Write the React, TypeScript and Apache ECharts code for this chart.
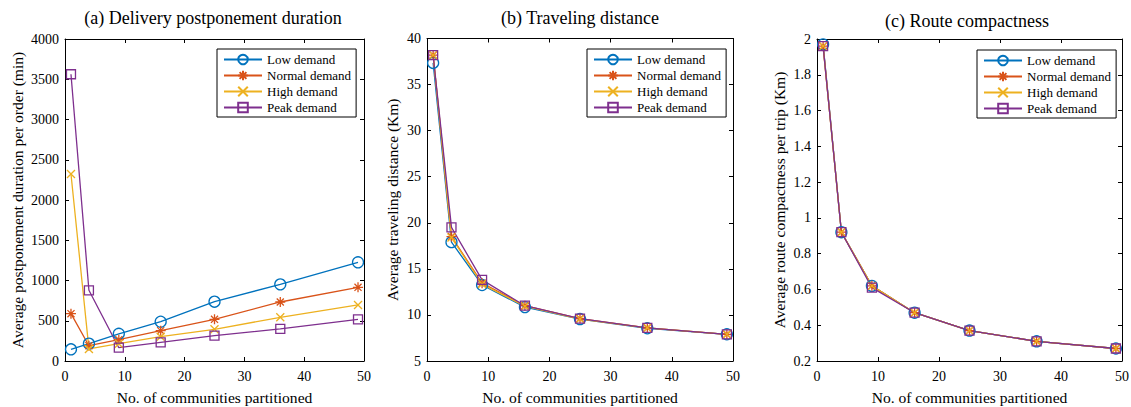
import React, { useEffect, useRef } from "react";
import * as echarts from "echarts";

const xValues = [1, 4, 9, 16, 25, 36, 49];
const seriesNames = ["Low demand", "Normal demand", "High demand", "Peak demand"];

const delayLow = [145, 215, 338, 488, 737, 952, 1226];
const delayNormal = [588, 190, 265, 377, 518, 733, 915];
const delayHigh = [2323, 150, 215, 302, 394, 543, 696];
const delayPeak = [3562, 878, 165, 232, 315, 398, 518];

const distLow = [37.35, 17.9, 13.25, 10.85, 9.55, 8.55, 7.9];
const distNormal = [38.2, 18.5, 13.45, 11.0, 9.6, 8.6, 7.9];
const distHigh = [38.2, 18.4, 13.35, 10.95, 9.55, 8.6, 7.9];
const distPeak = [38.2, 19.5, 13.8, 11.0, 9.6, 8.6, 7.9];

const compLow = [1.97, 0.92, 0.62, 0.47, 0.37, 0.31, 0.27];
const compNormal = [1.96, 0.92, 0.62, 0.47, 0.37, 0.31, 0.27];
const compHigh = [1.96, 0.92, 0.62, 0.47, 0.37, 0.31, 0.27];
const compPeak = [1.96, 0.92, 0.61, 0.47, 0.37, 0.31, 0.27];

const titles = ["(a) Delivery postponement duration", "(b) Traveling distance", "(c) Route compactness"];
const yNames = [
  "Average postponement duration per order (min)",
  "Average traveling distance (Km)",
  "Average route compactness per trip (Km)",
];
const xName = "No. of communities partitioned";

const colors = ["#0072BD", "#D95319", "#EDB120", "#7E2F8E"];
const symbols = [
  "circle",
  "path://M5 0L5 10M0 5L10 5M1.46 1.46L8.54 8.54M8.54 1.46L1.46 8.54",
  "path://M0 0L10 10M10 0L0 10",
  "rect",
];
const symbolSizes = [11, 10, 8, 9];

const FONT = "Liberation Serif";

const grids = [
  { left: 65, top: 39, width: 299, height: 322 },
  { left: 427, top: 38.5, width: 306, height: 322.5 },
  { left: 817, top: 39, width: 305, height: 322 },
];
const yRanges = [
  { min: 0, max: 4000, interval: 500 },
  { min: 5, max: 40, interval: 5 },
  { min: 0.2, max: 2, interval: 0.2 },
];
const yNameGaps = [40, 27, 30];
const titlePos = [
  { x: 213, y: 18 },
  { x: 580, y: 18 },
  { x: 967, y: 21 },
];
const legendPos = [
  { left: 217, top: 49 },
  { left: 587, top: 49 },
  { left: 977, top: 50 },
];

const dataSets = [
  [delayLow, delayNormal, delayHigh, delayPeak],
  [distLow, distNormal, distHigh, distPeak],
  [compLow, compNormal, compHigh, compPeak],
];

const fmt = (v: number) => String(Math.round(v * 100) / 100);

export default function App() {
  const ref = useRef<HTMLDivElement>(null);
  useEffect(() => {
    if (!ref.current) return;
    const chart = echarts.init(ref.current, null, { renderer: "svg" });
    const black = "#000";
    const xAxis: any[] = [];
    const yAxis: any[] = [];
    const series: any[] = [];
    const legend: any[] = [];
    const graphic: any[] = [];

    grids.forEach((g, gi) => {
      const tick = { show: true, inside: true, length: 4, lineStyle: { color: black, width: 1 } };
      xAxis.push({
        type: "value",
        gridIndex: gi,
        position: "bottom",
        min: 0,
        max: 50,
        interval: 10,
        name: xName,
        nameLocation: "middle",
        nameGap: 28,
        nameTextStyle: { fontFamily: FONT, fontSize: 15.6, color: black },
        axisLine: { show: true, onZero: false, lineStyle: { color: black, width: 1 } },
        axisTick: tick,
        axisLabel: { fontFamily: FONT, fontSize: 14, color: black, margin: 8, formatter: fmt },
        splitLine: { show: false },
      });
      xAxis.push({
        type: "value",
        gridIndex: gi,
        position: "top",
        min: 0,
        max: 50,
        interval: 10,
        axisLine: { show: true, onZero: false, lineStyle: { color: black, width: 1 } },
        axisTick: tick,
        axisLabel: { show: false },
        splitLine: { show: false },
      });
      const r = yRanges[gi];
      yAxis.push({
        type: "value",
        gridIndex: gi,
        position: "left",
        min: r.min,
        max: r.max,
        interval: r.interval,
        name: yNames[gi],
        nameLocation: "middle",
        nameGap: yNameGaps[gi],
        nameTextStyle: { fontFamily: FONT, fontSize: 15.5, color: black },
        axisLine: { show: true, onZero: false, lineStyle: { color: black, width: 1 } },
        axisTick: tick,
        axisLabel: { fontFamily: FONT, fontSize: 14, color: black, margin: 6, formatter: fmt },
        splitLine: { show: false },
      });
      yAxis.push({
        type: "value",
        gridIndex: gi,
        position: "right",
        min: r.min,
        max: r.max,
        interval: r.interval,
        axisLine: { show: true, onZero: false, lineStyle: { color: black, width: 1 } },
        axisTick: tick,
        axisLabel: { show: false },
        splitLine: { show: false },
      });

      dataSets[gi].forEach((vals, si) => {
        series.push({
          type: "line",
          name: seriesNames[si],
          xAxisIndex: gi * 2,
          yAxisIndex: gi * 2,
          data: xValues.map((x, i) => [x, vals[i]]),
          symbol: symbols[si],
          symbolSize: symbolSizes[si],
          showAllSymbol: true,
          lineStyle: { color: colors[si], width: 1.3 },
          itemStyle: { color: "rgba(0,0,0,0)", borderColor: colors[si], borderWidth: 1.3 },
          emphasis: { disabled: true },
        });
      });

      legend.push({
        orient: "vertical",
        left: legendPos[gi].left,
        top: legendPos[gi].top,
        data: seriesNames,
        itemWidth: 38,
        itemHeight: 12,
        itemGap: 3,
        padding: [4, 5, 3, 6],
        borderColor: black,
        borderWidth: 1,
        backgroundColor: "#fff",
        textStyle: { fontFamily: FONT, fontSize: 13, color: black },
        selectedMode: false,
      });

      graphic.push({
        type: "text",
        x: titlePos[gi].x,
        y: titlePos[gi].y,
        style: {
          text: titles[gi],
          fontFamily: FONT,
          fontSize: 18,
          fill: black,
          textAlign: "center",
          textVerticalAlign: "middle",
        },
      });
    });

    chart.setOption({
      animation: false,
      backgroundColor: "#fff",
      textStyle: { fontFamily: FONT, color: black },
      grid: grids.map((g) => ({ ...g, containLabel: false, outerBoundsMode: "none" })),
      xAxis,
      yAxis,
      series,
      legend,
      graphic,
    });
    return () => chart.dispose();
  }, []);
  return (
    <div
      ref={ref}
      style={{ position: "absolute", left: 0, top: 0, width: 1131, height: 407 }}
    />
  );
}
